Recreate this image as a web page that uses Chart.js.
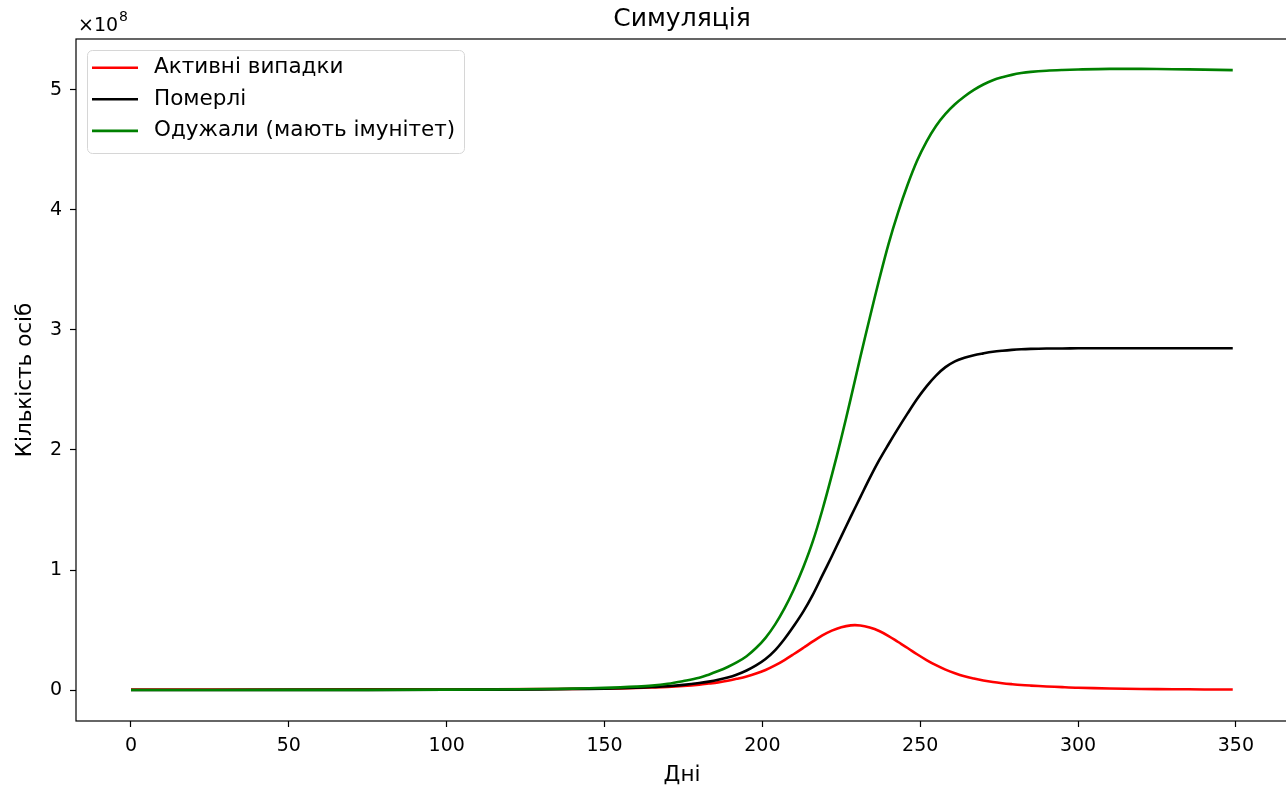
<!DOCTYPE html>
<html>
<head>
<meta charset="utf-8">
<title>Симуляція</title>
<script src="https://cdn.jsdelivr.net/npm/chart.js@4.4.1/dist/chart.umd.min.js"></script>
<style>
  html, body { margin: 0; padding: 0; background: #fff; overflow: hidden; }
  canvas { display: block; }
</style>
</head>
<body>
<canvas id="sim" width="1300" height="786"></canvas>
<script>
// Simulation output, values in units of 10^8 persons
const days = [0, 50, 100, 130, 140, 150, 155, 160, 165, 170, 175,
  180, 183, 186, 189, 192, 195, 198, 201, 204, 207,
  210, 213, 216, 219, 222, 225, 228, 231, 234, 237,
  240, 243, 246, 249, 252, 255, 258, 261, 264, 267,
  270, 273, 276, 279, 282, 285,
  290, 295, 300, 310, 320, 330, 340, 349];

const activeCases = [0.005, 0.005, 0.006, 0.008, 0.010, 0.012, 0.014, 0.017, 0.021, 0.026, 0.034,
  0.045, 0.054, 0.064, 0.077, 0.094, 0.113, 0.137, 0.167, 0.205, 0.250,
  0.300, 0.352, 0.405, 0.455, 0.495, 0.524, 0.539, 0.538, 0.521, 0.492,
  0.450, 0.400, 0.350, 0.298, 0.250, 0.207, 0.170, 0.140, 0.115, 0.096,
  0.080, 0.067, 0.057, 0.049, 0.042, 0.037,
  0.030, 0.024, 0.019, 0.013, 0.009, 0.007, 0.005, 0.004];

const deaths = [0.000, 0.001, 0.002, 0.005, 0.008, 0.012, 0.015, 0.019, 0.025, 0.032, 0.043,
  0.058, 0.070, 0.085, 0.104, 0.130, 0.163, 0.205, 0.258, 0.330, 0.425,
  0.535, 0.655, 0.795, 0.955, 1.115, 1.280, 1.445, 1.605, 1.765, 1.915,
  2.050, 2.180, 2.305, 2.425, 2.530, 2.620, 2.690, 2.738, 2.768, 2.790,
  2.805, 2.818, 2.827, 2.834, 2.839, 2.842,
  2.845, 2.846, 2.847, 2.848, 2.848, 2.848, 2.848, 2.848];

const recovered = [0.000, 0.001, 0.003, 0.008, 0.012, 0.018, 0.022, 0.028, 0.037, 0.052, 0.075,
  0.102, 0.128, 0.158, 0.192, 0.232, 0.282, 0.350, 0.435, 0.545, 0.680,
  0.840, 1.025, 1.240, 1.500, 1.790, 2.100, 2.430, 2.770, 3.100, 3.420,
  3.720, 3.980, 4.210, 4.410, 4.570, 4.700, 4.800, 4.880, 4.945, 5.000,
  5.045, 5.080, 5.105, 5.125, 5.140, 5.150,
  5.160, 5.166, 5.170, 5.175, 5.175, 5.172, 5.169, 5.165];

const seriesLabels = ['Активні випадки', 'Померлі', 'Одужали (мають імунітет)'];
const seriesColors = ['#ff0000', '#000000', '#008000'];
const xTicks = [0, 50, 100, 150, 200, 250, 300, 350];
const yTicks = [0, 1, 2, 3, 4, 5];
const titleText = 'Симуляція';
const xLabel = 'Дні';
const yLabel = 'Кількість осіб';
const offsetBase = '×10';
const offsetExp = '8';

const FONT = '"DejaVu Sans", sans-serif';
const TICK_PX = 19;
const LABEL_PX = 21.5;
const TITLE_PX = 25;

function points(values) {
  return days.map((d, i) => ({ x: d, y: values[i] }));
}

// frame, title, axis labels, offset text and legend in the axes corner
const decorations = {
  id: 'decorations',
  afterDraw(chart) {
    const { ctx, chartArea: a } = chart;
    ctx.save();
    ctx.strokeStyle = '#000';
    ctx.lineWidth = 1.2;
    ctx.strokeRect(a.left, a.top, a.right - a.left, a.bottom - a.top);

    const cx = (a.left + a.right) / 2;
    ctx.fillStyle = '#000';
    ctx.textAlign = 'center';
    ctx.textBaseline = 'alphabetic';
    ctx.font = `${TITLE_PX}px ${FONT}`;
    ctx.fillText(titleText, cx, a.top - 13);

    ctx.font = `${LABEL_PX}px ${FONT}`;
    ctx.fillText(xLabel, cx, 781);

    ctx.save();
    ctx.translate(31, (a.top + a.bottom) / 2);
    ctx.rotate(-Math.PI / 2);
    ctx.fillText(yLabel, 0, 0);
    ctx.restore();

    ctx.textAlign = 'left';
    ctx.font = `${TICK_PX}px ${FONT}`;
    ctx.fillText(offsetBase, a.left + 2, a.top - 8);
    const w = ctx.measureText(offsetBase).width;
    ctx.font = `14px ${FONT}`;
    ctx.fillText(offsetExp, a.left + 2 + w + 1, a.top - 18);

    // legend
    const lx = 87.5, ly = 50.5, lw = 377, lh = 103, r = 5;
    ctx.beginPath();
    ctx.moveTo(lx + r, ly);
    ctx.arcTo(lx + lw, ly, lx + lw, ly + lh, r);
    ctx.arcTo(lx + lw, ly + lh, lx, ly + lh, r);
    ctx.arcTo(lx, ly + lh, lx, ly, r);
    ctx.arcTo(lx, ly, lx + lw, ly, r);
    ctx.closePath();
    ctx.fillStyle = 'rgba(255,255,255,0.8)';
    ctx.fill();
    ctx.strokeStyle = '#d6d6d6';
    ctx.lineWidth = 1;
    ctx.stroke();

    ctx.font = `${LABEL_PX}px ${FONT}`;
    ctx.textBaseline = 'middle';
    seriesLabels.forEach((label, i) => {
      const y = 67.7 + i * 31.6;
      ctx.strokeStyle = seriesColors[i];
      ctx.lineWidth = 2.6;
      ctx.beginPath();
      ctx.moveTo(92, y);
      ctx.lineTo(138, y);
      ctx.stroke();
      ctx.fillStyle = '#000';
      ctx.fillText(label, 154, y);
    });
    ctx.restore();
  }
};

const seriesData = [activeCases, deaths, recovered];

new Chart(document.getElementById('sim'), {
  type: 'line',
  data: {
    datasets: seriesData.map((vals, i) => ({
      label: seriesLabels[i],
      data: points(vals),
      borderColor: seriesColors[i],
      borderWidth: 2.6,
      pointRadius: 0,
      fill: false,
      tension: 0.35,
      order: 3 - i
    }))
  },
  options: {
    responsive: false,
    animation: false,
    devicePixelRatio: 1,
    events: [],
    layout: { padding: { left: 0, top: 39, right: 12, bottom: 0 } },
    plugins: {
      legend: { display: false },
      title: { display: false },
      tooltip: { enabled: false }
    },
    scales: {
      x: {
        type: 'linear',
        min: -17.42,
        max: 366.5,
        afterBuildTicks: s => { s.ticks = xTicks.map(v => ({ value: v })); },
        afterFit: s => { s.height = 65; },
        border: { display: false },
        grid: { drawOnChartArea: false, drawTicks: true, tickLength: 6, tickWidth: 1.2, tickColor: '#000' },
        ticks: { color: '#000', font: { family: 'DejaVu Sans', size: TICK_PX }, padding: 8, maxRotation: 0, callback: v => String(v) }
      },
      y: {
        type: 'linear',
        min: -0.258,
        max: 5.424,
        afterBuildTicks: s => { s.ticks = yTicks.map(v => ({ value: v })); },
        afterFit: s => { s.width = 76; },
        border: { display: false },
        grid: { drawOnChartArea: false, drawTicks: true, tickLength: 6, tickWidth: 1.2, tickColor: '#000' },
        ticks: { color: '#000', font: { family: 'DejaVu Sans', size: TICK_PX }, padding: 8, callback: v => String(v) }
      }
    }
  },
  plugins: [decorations]
});
</script>
</body>
</html>
